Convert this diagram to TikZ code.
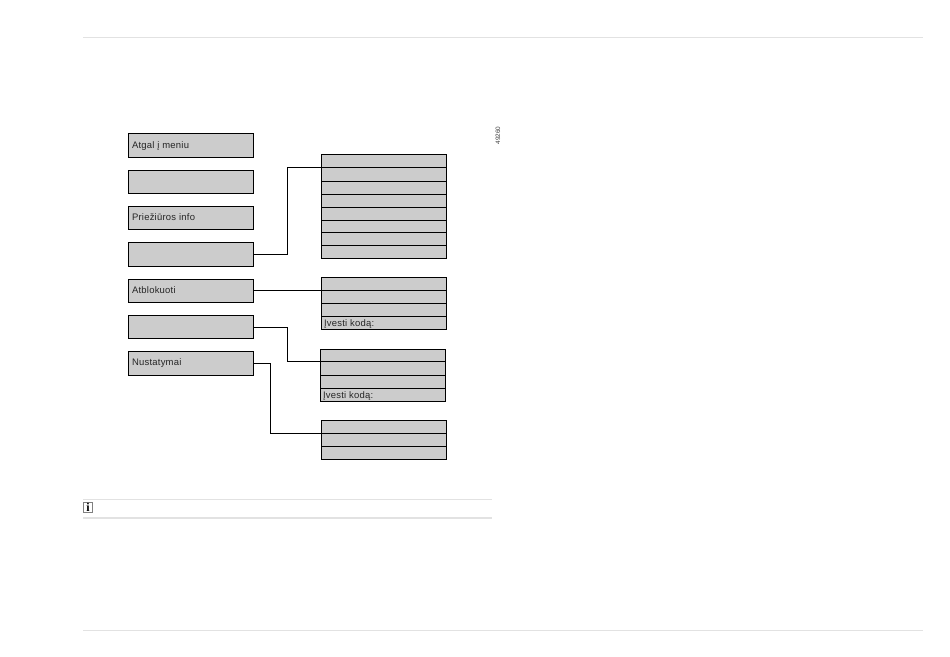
\documentclass[tikz,border=0pt]{standalone}
\usepackage{fontspec}
\setmainfont{Liberation Sans}
\newfontface\spaced{Liberation Sans}[LetterSpace=2.5]
\newfontface\iconface{Liberation Serif Bold}
\definecolor{boxgray}{RGB}{204,204,204}
\definecolor{rulegray}{RGB}{226,226,226}
\tikzset{
  x=0.75pt,y=-0.75pt,
  menubox/.style={draw=black,fill=boxgray,line width=0.75pt,minimum width=125*0.75pt,inner sep=0pt,outer sep=0pt,anchor=north west},
  rowbox/.style={menubox,minimum height=13*0.75pt},
  label/.style={inner sep=0pt,outer sep=0pt,anchor=base west,text=black!85,font=\fontsize{7.1}{8}\selectfont\spaced},
  wire/.style={draw=black,line width=0.75pt},
  rule/.style={draw=rulegray,line width=0.75pt},
  notrule/.style={draw=rulegray,line width=1.1pt},
}
\begin{document}
\begin{tikzpicture}
\useasboundingbox (0,0) rectangle (950,657);
\fill[white] (0,0) rectangle (950,657);
% page rules
\coordinate (tl) at (83,37); \coordinate (tr) at (923,37);
\coordinate (bl) at (83,630); \coordinate (br) at (923,630);
\coordinate (nl) at (83,499.5); \coordinate (nr) at (492,499.5);
\coordinate (ml) at (83,518); \coordinate (mr) at (492,518);
\draw[rule] (tl) -- (tr);
\draw[rule] (bl) -- (br);
\draw[notrule] (nl) -- (nr);
\draw[notrule] (ml) -- (mr);
% left column
\node[menubox,minimum height=24*0.75pt] (b1) at (128.5,133.5) {};
\node[menubox,minimum height=23*0.75pt] (b2) at (128.5,170.5) {};
\node[menubox,minimum height=23*0.75pt] (b3) at (128.5,206.5) {};
\node[menubox,minimum height=24*0.75pt] (b4) at (128.5,242.5) {};
\node[menubox,minimum height=23*0.75pt] (b5) at (128.5,279) {};
\node[menubox,minimum height=23*0.75pt] (b6) at (128.5,315.5) {};
\node[menubox,minimum height=24*0.75pt] (b7) at (128.5,351.5) {};
\node[label] (t1) at (132,148.5) {Atgal į meniu};
\node[label] (t3) at (132,220) {Priežiūros info};
\node[label] (t5) at (132,293) {Atblokuoti};
\node[label] (t7) at (132,365) {Nustatymai};
% stack 1
\node[rowbox] (a1) at (321.5,154.5) {};
\node[rowbox,minimum height=14*0.75pt] (a2) at (321.5,167.5) {};
\node[rowbox] (a3) at (321.5,181.5) {};
\node[rowbox] (a4) at (321.5,194.5) {};
\node[rowbox,minimum height=12.5*0.75pt] (a5) at (321.5,207.5) {};
\node[rowbox,minimum height=12.5*0.75pt] (a6) at (321.5,220) {};
\node[rowbox] (a7) at (321.5,232.5) {};
\node[rowbox] (a8) at (321.5,245.5) {};
% stack 2
\node[rowbox] (c1) at (321.5,277.5) {};
\node[rowbox] (c2) at (321.5,290.5) {};
\node[rowbox] (c3) at (321.5,303.5) {};
\node[rowbox] (c4) at (321.5,316.5) {};
\node[label] (t8) at (324,326.5) {Įvesti kodą:};
% stack 3
\node[rowbox,minimum height=12*0.75pt] (d1) at (320.5,349.5) {};
\node[rowbox,minimum height=14*0.75pt] (d2) at (320.5,361.5) {};
\node[rowbox] (d3) at (320.5,375.5) {};
\node[rowbox] (d4) at (320.5,388.5) {};
\node[label] (t9) at (323,398.5) {Įvesti kodą:};
% stack 4
\node[rowbox] (e1) at (321.5,420.5) {};
\node[rowbox] (e2) at (321.5,433.5) {};
\node[rowbox] (e3) at (321.5,446.5) {};
% connectors
\draw[wire] (b4.east) -| (287.5,167.5) -- (a2.north west);
\draw[wire] (b5.east) -- (c2.north west);
\draw[wire] (b6.east) -| (287.5,361.5) -- (d2.north west);
\draw[wire] (b7.east) -| (270.5,433.5) -- (e2.north west);
% figure number
\node[inner sep=0pt,rotate=90,font=\fontsize{4.8}{5}\selectfont,text=black!75] (fig) at (498,135.5) {49260};
% info icon
\node[draw=black!50,line width=0.5pt,fill=white,minimum width=9*0.75pt,minimum height=10*0.75pt,inner sep=0pt,font=\fontsize{9}{9}\selectfont\iconface] (info) at (88,507.5) {i};
\end{tikzpicture}
\end{document}
